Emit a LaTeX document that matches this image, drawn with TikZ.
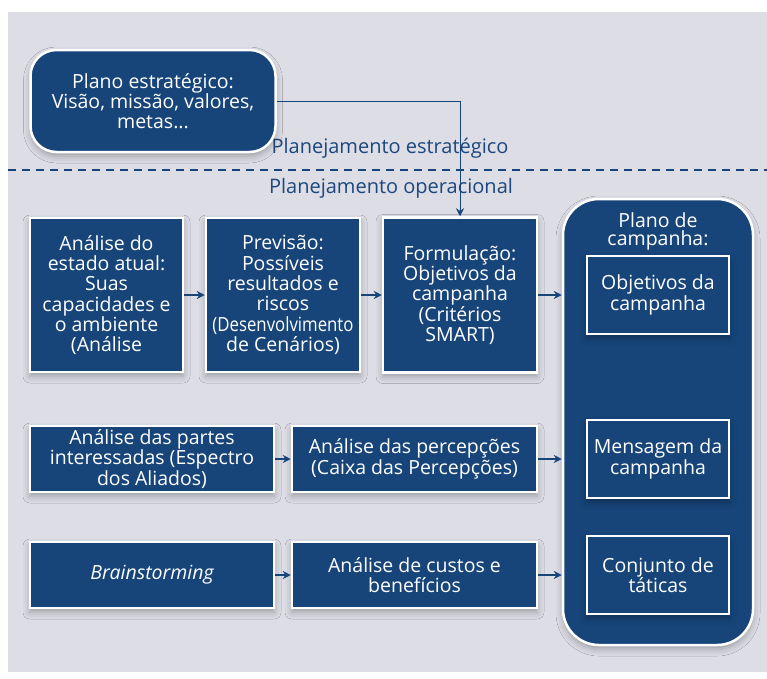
\documentclass[tikz,border=0pt]{standalone}
\usepackage{fontspec}
\setmainfont{Open Sans}
\usetikzlibrary{arrows.meta,shadows.blur}
\definecolor{bg}{RGB}{221,221,230}
\definecolor{navy}{RGB}{23,69,122}
\definecolor{lbl}{RGB}{28,72,125}
\tikzset{
  boxstyle/.style={draw=white, line width=2.5pt, fill=navy, text=white, align=center, inner sep=0pt,
    font=\fontsize{19.5}{20.3}\selectfont,
    blur shadow={shadow xshift=0pt, shadow yshift=-4pt, shadow blur radius=7pt, shadow opacity=30}},
  conn/.style={draw=navy, line width=1.4pt, -{Stealth[length=8pt,width=8pt]}},
  thinconn/.style={draw=navy, line width=1pt, -{Stealth[length=8pt,width=8pt]}},
  lab/.style={text=lbl, font=\fontsize{20}{20}\selectfont}
}
\begin{document}
\begin{tikzpicture}[x=1pt,y=-1pt]
\useasboundingbox (0,0) rectangle (767,678);
\fill[white] (0,0) rectangle (767,678);
\fill[bg] (8,12) rectangle (767,672);
% dashed separator
\coordinate (dl) at (8,170);
\coordinate (dr) at (767,170);
\draw[navy, line width=1.4pt, dash pattern=on 8pt off 6pt] (dl) -- (dr);
\node[lab] (lstr) at (390,148) {Planejamento estratégico};
\node[lab] (lop) at (391,188) {Planejamento operacional};
% strategic plan
\node[boxstyle, rounded corners=26pt, minimum width=245, minimum height=102] (pe) at (153,101)
  {Plano estratégico:\\Visão, missão, valores,\\metas...};
% row 1
\node[boxstyle, minimum width=153, minimum height=154] (b1) at (106.5,295)
  {Análise do\\estado atual:\\Suas\\capacidades e\\o ambiente\\(Análise};
\node[boxstyle, minimum width=154, minimum height=154] (b2) at (283,295)
  {Previsão:\\Possíveis\\resultados e\\riscos\\\scalebox{0.86}[1]{(Desenvolvimento}\\de Cenários)};
\node[boxstyle, minimum width=154, minimum height=155] (b3) at (460,295)
  {Formulação:\\Objetivos da\\campanha\\(Critérios\\SMART)};
% campaign plan
\node[boxstyle, rounded corners=36pt, minimum width=190, minimum height=446] (camp) at (658,422) {};
\node[text=white, align=center, font=\fontsize{19.5}{18}\selectfont] (camptitle) at (658,231) {Plano de\\campanha:};
\node[boxstyle, minimum width=142, minimum height=78] (c1) at (658,295) {Objetivos da\\campanha};
\node[boxstyle, minimum width=142, minimum height=78] (c2) at (658,459) {Mensagem da\\campanha};
\node[boxstyle, minimum width=142, minimum height=78] (c3) at (658,575) {Conjunto de\\táticas};
% row 2
\node[boxstyle, minimum width=244, minimum height=66, font=\fontsize{19.5}{17}\selectfont] (r2a) at (152,459)
  {Análise das partes\\interessadas (Espectro\\dos Aliados)};
\node[boxstyle, minimum width=245, minimum height=66] (r2b) at (414.5,459)
  {Análise das percepções\\(Caixa das Percepções)};
% row 3
\node[boxstyle, minimum width=244, minimum height=66] (r3a) at (152,575) {\itshape Brainstorming};
\node[boxstyle, minimum width=245, minimum height=66] (r3b) at (414.5,575)
  {Análise de custos e\\benefícios};
% connectors
\draw[thinconn] (pe.east) -| (b3.north);
\draw[conn] (b1.east) -- (b2.west);
\draw[conn] (b2.east) -- (b3.west);
\draw[conn] (b3.east) -- (camp.west |- b3.east);
\draw[conn] (r2a.east) -- (r2b.west);
\draw[conn] (r2b.east) -- (camp.west |- r2b.east);
\draw[conn] (r3a.east) -- (r3b.west);
\draw[conn] (r3b.east) -- (camp.west |- r3b.east);
\end{tikzpicture}
\end{document}
